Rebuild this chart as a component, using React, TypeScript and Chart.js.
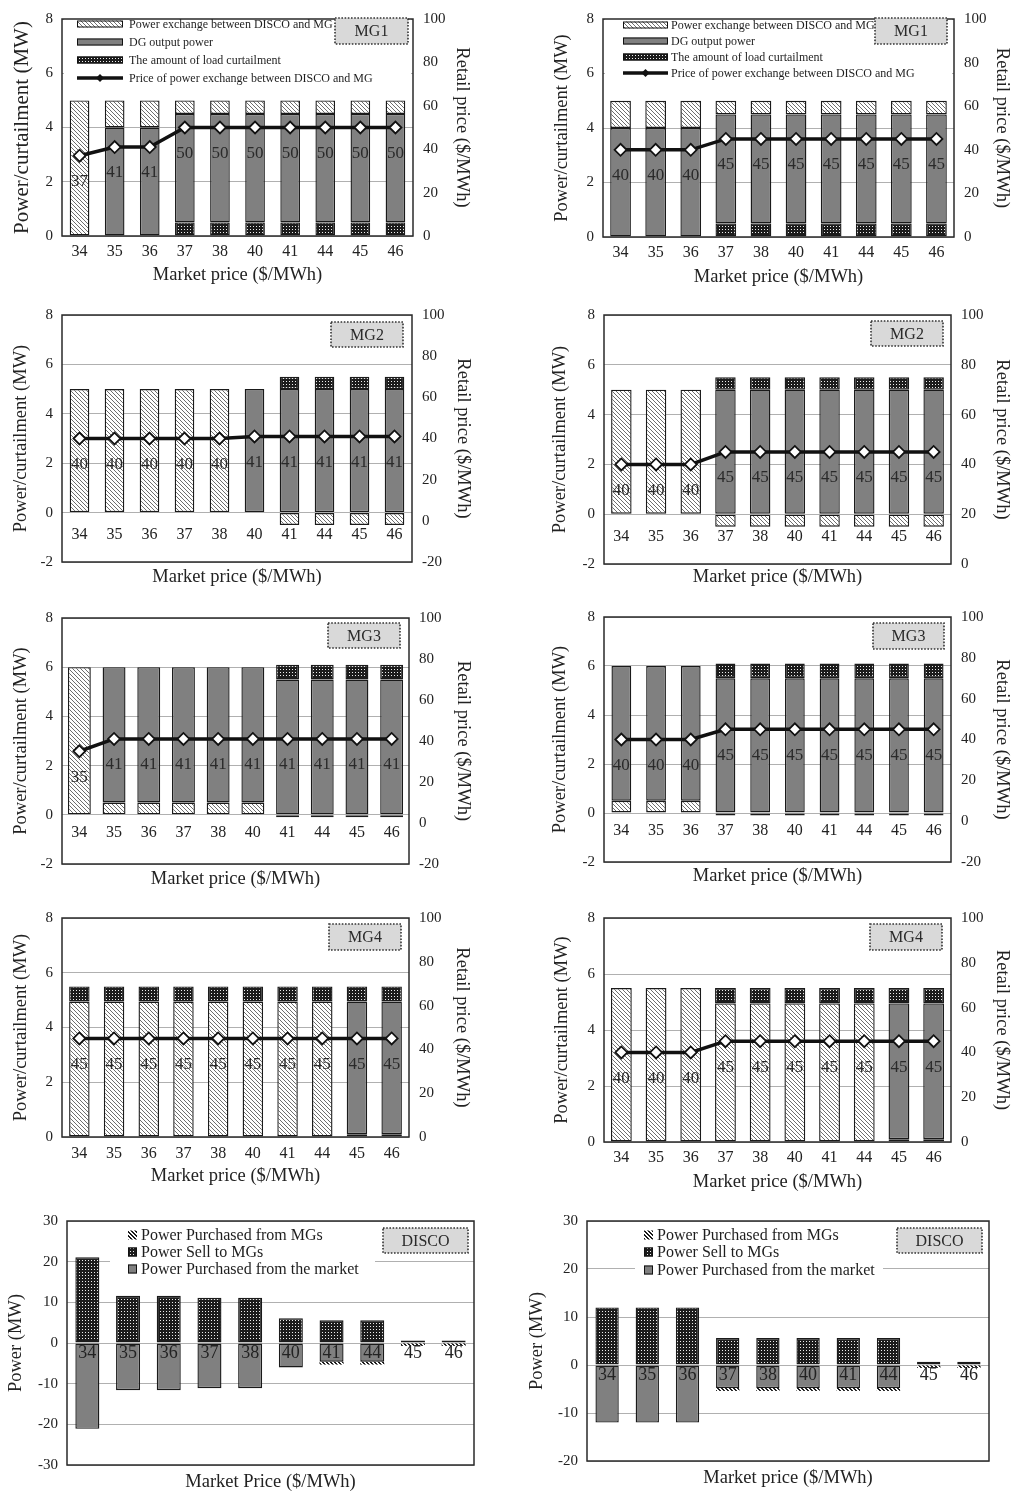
import React, { useEffect, useRef } from 'react';
import { Chart, registerables } from 'chart.js';

Chart.register(...registerables);

const FONT = '"Liberation Serif", "Times New Roman", Times, serif';
Chart.defaults.font.family = FONT;
Chart.defaults.color = '#222';

// ---------------- data ----------------
const marketPrice = ['34', '35', '36', '37', '38', '40', '41', '44', '45', '46'];

// left column (a)
const mg1aExchange = [5, 1, 1, 0.5, 0.5, 0.5, 0.5, 0.5, 0.5, 0.5];
const mg1aDG = [0, 4, 4, 4, 4, 4, 4, 4, 4, 4];
const mg1aCurtail = [0, 0, 0, 0.5, 0.5, 0.5, 0.5, 0.5, 0.5, 0.5];
const mg1aPrice = [37, 41, 41, 50, 50, 50, 50, 50, 50, 50];

const mg2aExchange = [5, 5, 5, 5, 5, 0, -0.5, -0.5, -0.5, -0.5];
const mg2aDG = [0, 0, 0, 0, 0, 5, 5, 5, 5, 5];
const mg2aCurtail = [0, 0, 0, 0, 0, 0, 0.5, 0.5, 0.5, 0.5];
const mg2aPrice = [40, 40, 40, 40, 40, 41, 41, 41, 41, 41];

const mg3aExchange = [6, 0.5, 0.5, 0.5, 0.5, 0.5, -0.1, -0.1, -0.1, -0.1];
const mg3aDG = [0, 5.5, 5.5, 5.5, 5.5, 5.5, 5.5, 5.5, 5.5, 5.5];
const mg3aCurtail = [0, 0, 0, 0, 0, 0, 0.6, 0.6, 0.6, 0.6];
const mg3aPrice = [35, 41, 41, 41, 41, 41, 41, 41, 41, 41];

const mg4aExchange = [4.95, 4.95, 4.95, 4.95, 4.95, 4.95, 4.95, 4.95, 0.1, 0.1];
const mg4aDG = [0, 0, 0, 0, 0, 0, 0, 0, 4.85, 4.85];
const mg4aCurtail = [0.55, 0.55, 0.55, 0.55, 0.55, 0.55, 0.55, 0.55, 0.55, 0.55];
const mg4aPrice = [45, 45, 45, 45, 45, 45, 45, 45, 45, 45];

const discoAFromMGs = [0, 0, 0, 0, 0, 0, -0.7, -0.7, -0.7, -0.7];
const discoASell = [21.1, 11.6, 11.6, 11.1, 11.1, 6.1, 5.6, 5.6, 0.6, 0.6];
const discoAMarket = [-21.1, -11.6, -11.6, -11.1, -11.1, -6, -4.6, -4.6, 0, 0];

// right column (b)
const mg1bExchange = [1, 1, 1, 0.5, 0.5, 0.5, 0.5, 0.5, 0.5, 0.5];
const mg1bDG = [4, 4, 4, 4, 4, 4, 4, 4, 4, 4];
const mg1bCurtail = [0, 0, 0, 0.5, 0.5, 0.5, 0.5, 0.5, 0.5, 0.5];
const mg1bPrice = [40, 40, 40, 45, 45, 45, 45, 45, 45, 45];

const mg2bExchange = [5, 5, 5, -0.5, -0.5, -0.5, -0.5, -0.5, -0.5, -0.5];
const mg2bDG = [0, 0, 0, 5, 5, 5, 5, 5, 5, 5];
const mg2bCurtail = [0, 0, 0, 0.5, 0.5, 0.5, 0.5, 0.5, 0.5, 0.5];
const mg2bPrice = [40, 40, 40, 45, 45, 45, 45, 45, 45, 45];

const mg3bExchange = [0.5, 0.5, 0.5, -0.1, -0.1, -0.1, -0.1, -0.1, -0.1, -0.1];
const mg3bDG = [5.5, 5.5, 5.5, 5.5, 5.5, 5.5, 5.5, 5.5, 5.5, 5.5];
const mg3bCurtail = [0, 0, 0, 0.6, 0.6, 0.6, 0.6, 0.6, 0.6, 0.6];
const mg3bPrice = [40, 40, 40, 45, 45, 45, 45, 45, 45, 45];

const mg4bExchange = [5.5, 5.5, 5.5, 4.95, 4.95, 4.95, 4.95, 4.95, 0.1, 0.1];
const mg4bDG = [0, 0, 0, 0, 0, 0, 0, 0, 4.85, 4.85];
const mg4bCurtail = [0, 0, 0, 0.55, 0.55, 0.55, 0.55, 0.55, 0.55, 0.55];
const mg4bPrice = [40, 40, 40, 45, 45, 45, 45, 45, 45, 45];

const discoBFromMGs = [0, 0, 0, -0.6, -0.6, -0.6, -0.6, -0.6, -0.6, -0.6];
const discoBSell = [12, 12, 12, 5.6, 5.6, 5.6, 5.6, 5.6, 0.7, 0.7];
const discoBMarket = [-12, -12, -12, -4.8, -4.8, -4.8, -4.8, -4.8, 0, 0];

// tick/axis text
const powerTitle = 'Power/curtailment (MW)';
const retailTitle = 'Retail price ($/MWh)';
const marketTitle = 'Market price ($/MWh)';
const LBL_EX = 'Power exchange between DISCO and MG';
const LBL_DG = 'DG output power';
const LBL_CU = 'The amount of load curtailment';
const LBL_PR = 'Price of power exchange between DISCO and MG';
const LBL_FROM = 'Power Purchased from MGs';
const LBL_SELL = 'Power Sell to MGs';
const LBL_MKT = 'Power Purchased from the market';

// ---------------- styling helpers ----------------
type Fill = 'hatch' | 'dots' | 'gray' | 'hatchDark';
const patternCache: Record<string, CanvasPattern> = {};
function fillFor(kind: Fill): CanvasPattern | string {
  if (kind === 'gray') return '#808080';
  if (patternCache[kind]) return patternCache[kind];
  const tile = document.createElement('canvas');
  const g = tile.getContext('2d') as CanvasRenderingContext2D;
  if (kind === 'hatch') {
    tile.width = 4; tile.height = 4;
    g.fillStyle = '#ffffff'; g.fillRect(0, 0, 4, 4);
    g.fillStyle = '#6e6e6e';
    for (let i = 0; i < 4; i++) g.fillRect(i, i, 1, 1);
  } else if (kind === 'dots') {
    tile.width = 3; tile.height = 3;
    g.fillStyle = '#1c1c1c'; g.fillRect(0, 0, 3, 3);
    g.fillStyle = '#eeeeee'; g.fillRect(1, 1, 1, 1);
  } else {
    tile.width = 4; tile.height = 4;
    g.fillStyle = '#ffffff'; g.fillRect(0, 0, 4, 4);
    g.fillStyle = '#1a1a1a';
    for (let i = 0; i < 4; i++) { g.fillRect(i, i, 1, 1); g.fillRect((i + 1) % 4, i, 1, 1); }
  }
  const p = g.createPattern(tile, 'repeat') as CanvasPattern;
  patternCache[kind] = p;
  return p;
}

type StackDef = { label: string; data: number[]; fill: Fill; border?: number };
type LegendItem = { text: string; kind: 'rect' | 'line' | 'glyph'; fill?: Fill };
type LegendDef = { items: LegendItem[]; rows: number[]; swX: number; swW: number; swH: number; textX: number; font: number; bg: number[] };
type PanelDef = {
  key: string;
  cx: number; cy: number; cw: number; ch: number;
  L: number; T: number; R: number; B: number;
  y: number[]; y1?: number[];
  yTitle: string; yTitleX: number; yTitleSize: number;
  y1TitleX?: number;
  xTitle: string; xTitleY: number;
  barPct: number;
  stacks: StackDef[];
  price?: number[];
  catOffset: number; catFont: number;
  boxText: string; box: number[];
  legend?: LegendDef;
};

const mgLegendItems: LegendItem[] = [
  { text: LBL_EX, kind: 'rect', fill: 'hatch' },
  { text: LBL_DG, kind: 'rect', fill: 'gray' },
  { text: LBL_CU, kind: 'rect', fill: 'dots' },
  { text: LBL_PR, kind: 'line' },
];
const discoLegendItems: LegendItem[] = [
  { text: LBL_FROM, kind: 'glyph', fill: 'hatchDark' },
  { text: LBL_SELL, kind: 'rect', fill: 'dots' },
  { text: LBL_MKT, kind: 'rect', fill: 'gray' },
];

const ex = (d: number[]): StackDef => ({ label: LBL_EX, data: d, fill: 'hatch' });
const dg = (d: number[]): StackDef => ({ label: LBL_DG, data: d, fill: 'gray' });
const cu = (d: number[]): StackDef => ({ label: LBL_CU, data: d, fill: 'dots' });

const panels: PanelDef[] = [
  {
    key: 'mg1a', cx: 0, cy: 0, cw: 490, ch: 292, L: 62, T: 13, R: 413, B: 236,
    y: [0, 8, 2], y1: [0, 100, 20], yTitle: powerTitle, yTitleX: 22, yTitleSize: 21, y1TitleX: 462,
    xTitle: marketTitle, xTitleY: 275, barPct: 0.56,
    stacks: [cu(mg1aCurtail), dg(mg1aDG), ex(mg1aExchange)], price: mg1aPrice,
    catOffset: 16, catFont: 16, boxText: 'MG1', box: [335, 18, 408, 44],
    legend: { items: mgLegendItems, rows: [24, 42, 60, 78], swX: 77, swW: 46, swH: 7, textX: 129, font: 12, bg: [64, 15, 411, 87] },
  },
  {
    key: 'mg1b', cx: 505, cy: 0, cw: 508, ch: 292, L: 603, T: 13, R: 954, B: 237,
    y: [0, 8, 2], y1: [0, 100, 20], yTitle: powerTitle, yTitleX: 562, yTitleSize: 18.5, y1TitleX: 1002,
    xTitle: marketTitle, xTitleY: 277, barPct: 0.59,
    stacks: [cu(mg1bCurtail), dg(mg1bDG), ex(mg1bExchange)], price: mg1bPrice,
    catOffset: 16, catFont: 16, boxText: 'MG1', box: [875, 18, 947, 44],
    legend: { items: mgLegendItems, rows: [25, 41, 57, 73], swX: 623, swW: 45, swH: 7, textX: 671, font: 12, bg: [605, 15, 952, 82] },
  },
  {
    key: 'mg2a', cx: 0, cy: 296, cw: 490, ch: 296, L: 62, T: 315, R: 412, B: 562,
    y: [-2, 8, 2], y1: [-20, 100, 20], yTitle: powerTitle, yTitleX: 21.5, yTitleSize: 18.5, y1TitleX: 463,
    xTitle: marketTitle, xTitleY: 577, barPct: 0.56,
    stacks: [ex(mg2aExchange), dg(mg2aDG), cu(mg2aCurtail)], price: mg2aPrice,
    catOffset: 22.5, catFont: 16, boxText: 'MG2', box: [331, 322, 403, 347],
  },
  {
    key: 'mg2b', cx: 505, cy: 296, cw: 508, ch: 296, L: 604, T: 314, R: 951, B: 564,
    y: [-2, 8, 2], y1: [0, 100, 20], yTitle: powerTitle, yTitleX: 560, yTitleSize: 18.5, y1TitleX: 1002,
    xTitle: marketTitle, xTitleY: 577, barPct: 0.59,
    stacks: [ex(mg2bExchange), dg(mg2bDG), cu(mg2bCurtail)], price: mg2bPrice,
    catOffset: 23, catFont: 16, boxText: 'MG2', box: [871, 321, 943, 346],
  },
  {
    key: 'mg3a', cx: 0, cy: 596, cw: 490, ch: 296, L: 62, T: 618, R: 409, B: 864,
    y: [-2, 8, 2], y1: [-20, 100, 20], yTitle: powerTitle, yTitleX: 21, yTitleSize: 18.5, y1TitleX: 463,
    xTitle: marketTitle, xTitleY: 879, barPct: 0.66,
    stacks: [ex(mg3aExchange), dg(mg3aDG), cu(mg3aCurtail)], price: mg3aPrice,
    catOffset: 18, catFont: 16, boxText: 'MG3', box: [328, 623, 400, 648],
  },
  {
    key: 'mg3b', cx: 505, cy: 596, cw: 508, ch: 296, L: 604, T: 617, R: 951, B: 862,
    y: [-2, 8, 2], y1: [-20, 100, 20], yTitle: powerTitle, yTitleX: 560, yTitleSize: 18.5, y1TitleX: 1002,
    xTitle: marketTitle, xTitleY: 876, barPct: 0.57,
    stacks: [ex(mg3bExchange), dg(mg3bDG), cu(mg3bCurtail)], price: mg3bPrice,
    catOffset: 18, catFont: 16, boxText: 'MG3', box: [873, 623, 944, 649],
  },
  {
    key: 'mg4a', cx: 0, cy: 896, cw: 490, ch: 298, L: 62, T: 918, R: 409, B: 1137,
    y: [0, 8, 2], y1: [0, 100, 20], yTitle: powerTitle, yTitleX: 21, yTitleSize: 18.5, y1TitleX: 462,
    xTitle: marketTitle, xTitleY: 1176, barPct: 0.59,
    stacks: [ex(mg4aExchange), dg(mg4aDG), cu(mg4aCurtail)], price: mg4aPrice,
    catOffset: 17, catFont: 16, boxText: 'MG4', box: [329, 924, 401, 950],
  },
  {
    key: 'mg4b', cx: 505, cy: 896, cw: 508, ch: 298, L: 604, T: 918, R: 951, B: 1142,
    y: [0, 8, 2], y1: [0, 100, 20], yTitle: powerTitle, yTitleX: 562, yTitleSize: 18.5, y1TitleX: 1002,
    xTitle: marketTitle, xTitleY: 1182, barPct: 0.6,
    stacks: [ex(mg4bExchange), dg(mg4bDG), cu(mg4bCurtail)], price: mg4bPrice,
    catOffset: 16, catFont: 16, boxText: 'MG4', box: [870, 924, 942, 950],
  },
  {
    key: 'discoa', cx: 0, cy: 1196, cw: 490, ch: 298, L: 67, T: 1221, R: 474, B: 1465,
    y: [-30, 30, 10], yTitle: 'Power (MW)', yTitleX: 16, yTitleSize: 18.5,
    xTitle: 'Market Price ($/MWh)', xTitleY: 1482, barPct: 0.59,
    stacks: [
      { label: LBL_MKT, data: discoAMarket, fill: 'gray' },
      { label: LBL_FROM, data: discoAFromMGs, fill: 'hatchDark', border: 0 },
      { label: LBL_SELL, data: discoASell, fill: 'dots' },
    ],
    catOffset: 10, catFont: 18, boxText: 'DISCO', box: [383, 1228, 468, 1253],
    legend: { items: discoLegendItems, rows: [1235, 1252, 1269], swX: 128, swW: 9, swH: 9, textX: 141, font: 16, bg: [110, 1224, 375, 1280] },
  },
  {
    key: 'discob', cx: 505, cy: 1196, cw: 508, ch: 298, L: 587, T: 1221, R: 989, B: 1461,
    y: [-20, 30, 10], yTitle: 'Power (MW)', yTitleX: 537, yTitleSize: 18.5,
    xTitle: marketTitle, xTitleY: 1478, barPct: 0.58,
    stacks: [
      { label: LBL_MKT, data: discoBMarket, fill: 'gray' },
      { label: LBL_FROM, data: discoBFromMGs, fill: 'hatchDark', border: 0 },
      { label: LBL_SELL, data: discoBSell, fill: 'dots' },
    ],
    catOffset: 10, catFont: 18, boxText: 'DISCO', box: [897, 1228, 982, 1253],
    legend: { items: discoLegendItems, rows: [1235, 1252, 1270], swX: 644, swW: 9, swH: 9, textX: 657, font: 16, bg: [635, 1224, 883, 1281] },
  },
];

// ---------------- drawing ----------------
function drawLegend(ctx: CanvasRenderingContext2D, p: PanelDef) {
  const lg = p.legend;
  if (!lg) return;
  const ox = p.cx, oy = p.cy;
  ctx.save();
  ctx.fillStyle = '#ffffff';
  ctx.fillRect(lg.bg[0] - ox, lg.bg[1] - oy, lg.bg[2] - lg.bg[0], lg.bg[3] - lg.bg[1]);
  ctx.font = `${lg.font}px ${FONT}`;
  ctx.textBaseline = 'middle';
  ctx.textAlign = 'left';
  lg.items.forEach((it, i) => {
    const y = lg.rows[i] - oy;
    const x = lg.swX - ox;
    if (it.kind === 'line') {
      ctx.strokeStyle = '#111';
      ctx.lineWidth = 3.5;
      ctx.beginPath(); ctx.moveTo(x, y); ctx.lineTo(x + lg.swW, y); ctx.stroke();
      const mx = x + lg.swW / 2, r = 4;
      ctx.fillStyle = '#111';
      ctx.beginPath(); ctx.moveTo(mx, y - r); ctx.lineTo(mx + r, y); ctx.lineTo(mx, y + r); ctx.lineTo(mx - r, y); ctx.closePath(); ctx.fill();
    } else {
      ctx.fillStyle = fillFor(it.fill as Fill) as any;
      ctx.fillRect(x, y - lg.swH / 2, lg.swW, lg.swH);
      if (it.kind === 'rect') {
        ctx.strokeStyle = '#111';
        ctx.lineWidth = 1;
        ctx.strokeRect(x + 0.5, y - lg.swH / 2 + 0.5, lg.swW - 1, lg.swH - 1);
      }
    }
    ctx.fillStyle = '#1e1e1e';
    ctx.fillText(it.text, lg.textX - ox, y + 0.5);
  });
  ctx.restore();
}

function decorPlugin(p: PanelDef) {
  return {
    id: 'decor_' + p.key,
    beforeDatasetsDraw(chart: any) {
      drawLegend(chart.ctx, p);
    },
    afterDatasetsDraw(chart: any) {
      const ctx: CanvasRenderingContext2D = chart.ctx;
      const a = chart.chartArea;
      const xs = chart.scales.x;
      const ys = chart.scales.y;
      const ox = p.cx, oy = p.cy;
      ctx.save();
      // category labels along the zero line
      const y0 = ys.getPixelForValue(0);
      ctx.font = `${p.catFont}px ${FONT}`;
      ctx.fillStyle = '#222';
      ctx.textAlign = 'center';
      ctx.textBaseline = 'middle';
      marketPrice.forEach((c, i) => ctx.fillText(c, xs.getPixelForValue(i), y0 + p.catOffset));
      // value labels of the price line
      if (p.price) {
        const meta = chart.getDatasetMeta(0);
        ctx.font = `17px ${FONT}`;
        ctx.fillStyle = '#2a2a2a';
        meta.data.forEach((pt: any, i: number) => ctx.fillText(String(p.price![i]), pt.x, pt.y + 26));
      }
      // plot border
      ctx.strokeStyle = '#2a2a2a';
      ctx.lineWidth = 1.5;
      ctx.strokeRect(a.left, a.top, a.right - a.left, a.bottom - a.top);
      // name box
      const [bx1, by1, bx2, by2] = p.box;
      ctx.fillStyle = '#d9d9d9';
      ctx.fillRect(bx1 - ox, by1 - oy, bx2 - bx1, by2 - by1);
      ctx.setLineDash([1.6, 1.6]);
      ctx.strokeStyle = '#333';
      ctx.lineWidth = 1.6;
      ctx.strokeRect(bx1 - ox, by1 - oy, bx2 - bx1, by2 - by1);
      ctx.setLineDash([]);
      ctx.fillStyle = '#2a2a2a';
      ctx.font = `16px ${FONT}`;
      ctx.fillText(p.boxText, (bx1 + bx2) / 2 - ox, (by1 + by2) / 2 - oy + 1);
      ctx.restore();
    },
  };
}

function buildConfig(p: PanelDef) {
  const datasets: any[] = [];
  if (p.price) {
    datasets.push({
      type: 'line', label: LBL_PR, data: p.price, yAxisID: 'y1', xAxisID: 'x', order: 0,
      borderColor: '#111', borderWidth: 3.5, tension: 0, fill: false,
      pointStyle: 'rectRot', pointRadius: 6, pointBackgroundColor: '#ffffff',
      pointBorderColor: '#111', pointBorderWidth: 1.8,
    });
  }
  p.stacks.forEach((s) => {
    datasets.push({
      type: 'bar', label: s.label, data: s.data.map((v) => (v === 0 ? null : v)),
      yAxisID: 'y', xAxisID: 'x', order: 1, stack: 'total',
      backgroundColor: fillFor(s.fill), borderColor: '#1a1a1a',
      borderWidth: s.border === undefined ? 1.4 : s.border,
      borderSkipped: false, barPercentage: p.barPct, categoryPercentage: 1,
    });
  });
  const lhT = 18.5 * 1.2;
  const scales: any = {
    x: {
      type: 'category', offset: true, stacked: true,
      grid: { display: false, drawTicks: false }, border: { display: false },
      ticks: { display: false },
      title: {
        display: true, text: p.xTitle, color: '#222', font: { size: 18.5, family: FONT },
        padding: { top: 0, bottom: Math.max(0, p.cy + p.ch - p.xTitleY - lhT / 2) },
      },
      afterFit: (s: any) => { s.height = p.cy + p.ch - p.B; },
    },
    y: {
      position: 'left', stacked: true, min: p.y[0], max: p.y[1],
      ticks: { stepSize: p.y[2], padding: 9, color: '#222', font: { size: 15, family: FONT } },
      grid: { color: '#b0b0b0', lineWidth: 1, drawTicks: false }, border: { display: false },
      title: {
        display: true, text: p.yTitle, color: '#222', font: { size: p.yTitleSize, family: FONT },
        padding: { top: Math.max(0, p.yTitleX - p.cx - (p.yTitleSize * 1.2) / 2), bottom: 0 },
      },
      afterFit: (s: any) => { s.width = p.L - p.cx; },
    },
  };
  if (p.y1) {
    scales.y1 = {
      position: 'right', min: p.y1[0], max: p.y1[1],
      ticks: { stepSize: p.y1[2], padding: 10, color: '#222', font: { size: 15, family: FONT } },
      grid: { display: false, drawTicks: false }, border: { display: false },
      title: {
        display: true, text: retailTitle, color: '#222', font: { size: 18.5, family: FONT },
        padding: { top: Math.max(0, p.cx + p.cw - (p.y1TitleX as number) - lhT / 2), bottom: 0 },
      },
      afterFit: (s: any) => { s.width = p.cx + p.cw - p.R; },
    };
  }
  return {
    type: 'bar',
    data: { labels: marketPrice, datasets },
    options: {
      responsive: false, maintainAspectRatio: false, animation: false, devicePixelRatio: 1,
      events: [],
      layout: { padding: { top: p.T - p.cy, left: 0, bottom: 0, right: p.y1 ? 0 : p.cx + p.cw - p.R } },
      plugins: { legend: { display: false }, tooltip: { enabled: false } },
      scales,
    },
    plugins: [decorPlugin(p)],
  };
}

function PanelChart({ p }: { p: PanelDef }) {
  const ref = useRef<HTMLCanvasElement | null>(null);
  useEffect(() => {
    const canvas = ref.current;
    if (!canvas) return;
    const chart = new Chart(canvas, buildConfig(p) as any);
    return () => chart.destroy();
  }, [p]);
  return (
    <canvas
      ref={ref}
      width={p.cw}
      height={p.ch}
      style={{ position: 'absolute', left: p.cx, top: p.cy, width: p.cw, height: p.ch }}
    />
  );
}

export default function App() {
  return (
    <div style={{ position: 'absolute', left: 0, top: 0, width: 1013, height: 1494, background: '#ffffff', overflow: 'hidden' }}>
      {panels.map((p) => (
        <PanelChart key={p.key} p={p} />
      ))}
    </div>
  );
}
